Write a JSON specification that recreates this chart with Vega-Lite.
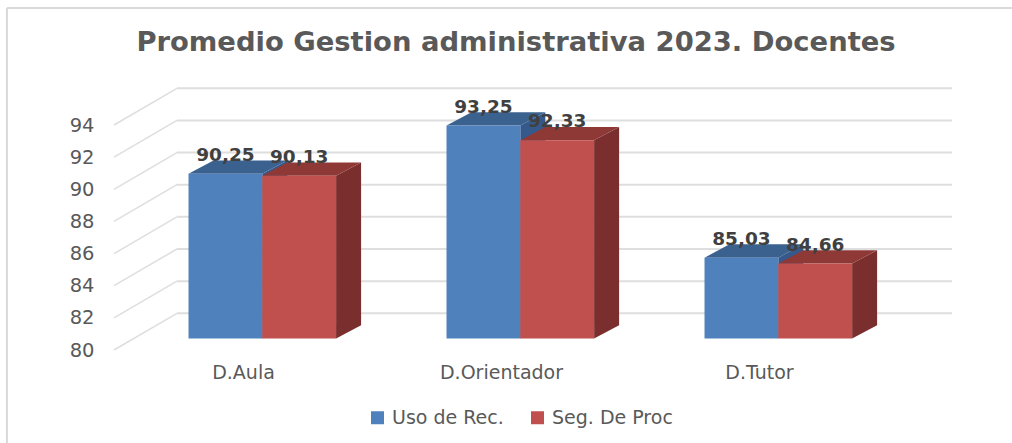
{
"$schema":"https://vega.github.io/schema/vega-lite/v6.json",
"width":838,"height":225,
"autosize":{"type":"none"},
"padding":{"left":114,"top":125,"right":60,"bottom":93},
"background":"white",
"config":{"view":{"stroke":null}},
"title":{"text":"Promedio Gestion administrativa 2023. Docentes","font":"DejaVu Sans","fontSize":27.4,"fontWeight":"bold","color":"#595959","anchor":"middle","dx":-17,"offset":-49},
"data":{"values":[
{"cat":"D.Aula","series":"Uso de Rec.","value":90.25},
{"cat":"D.Orientador","series":"Uso de Rec.","value":93.25},
{"cat":"D.Tutor","series":"Uso de Rec.","value":85.03},
{"cat":"D.Aula","series":"Seg. De Proc","value":90.13},
{"cat":"D.Orientador","series":"Seg. De Proc","value":92.33},
{"cat":"D.Tutor","series":"Seg. De Proc","value":84.66}
]},
"transform":[
{"calculate":"datum.series==='Uso de Rec.'?0:1","as":"si"},
{"calculate":"indexof(['D.Aula','D.Orientador','D.Tutor'],datum.cat)","as":"ci"},
{"calculate":"datum.ci+(datum.si-1)*0.286+0.0748","as":"xl"},
{"calculate":"datum.xl+0.286","as":"xr"},
{"calculate":"(datum.xl+datum.xr)/2","as":"xm"},
{"calculate":"datum.value+0.716","as":"top"},
{"calculate":"datum.cat+datum.series","as":"key"},
{"calculate":"replace(format(datum.value,'.2f'),'.',',')","as":"label"},
{"calculate":"[0,1]","as":"t"},
{"flatten":["t"]},
{"calculate":"datum.xr+datum.t*0.0969","as":"sx"},
{"calculate":"datum.top+datum.t*0.828","as":"sy"},
{"calculate":"80.716+datum.t*0.828","as":"sy2"},
{"calculate":"datum.xl+datum.t*0.0969","as":"tx"},
{"calculate":"datum.xr+datum.t*0.0969","as":"tx2"}
],
"encoding":{
 "x":{"type":"quantitative","title":null,"scale":{"domain":[-0.5,2.748],"nice":false,"zero":false},
  "axis":{"values":[0,1,2],"title":null,"domain":false,"ticks":false,"grid":false,"labelExpr":"['D.Aula','D.Orientador','D.Tutor'][datum.value]","labelFont":"DejaVu Sans","labelFontSize":19,"labelColor":"#595959","labelPadding":13,"labelOverlap":false,"labelFlush":false}},
 "y":{"type":"quantitative","title":null,"scale":{"domain":[80,94],"nice":false,"zero":false},
  "axis":{"values":[80,82,84,86,88,90,92,94],"title":null,"domain":false,"ticks":false,"grid":false,"labelFont":"DejaVu Sans","labelFontSize":19.5,"labelColor":"#595959","labelPadding":20,"labelOverlap":false,"labelFlush":false}}
},
"layer":[
{"data":{"values":[{"level":80},{"level":82},{"level":84},{"level":86},{"level":88},{"level":90},{"level":92},{"level":94}]},
 "transform":[{"calculate":"datum.level+2.284","as":"back"}],
 "layer":[
 {"mark":{"type":"rule","stroke":"#DEDEDE","strokeWidth":2},
  "encoding":{"x":{"datum":-0.256},"x2":{"datum":2.748},"y":{"field":"back"}}},
 {"mark":{"type":"rule","stroke":"#DEDEDE","strokeWidth":1.5},
  "encoding":{"x":{"datum":-0.5},"x2":{"datum":-0.256},"y":{"field":"level"},"y2":{"field":"back"}}}
 ]},
{"data":{"values":[{"edge":"frame"}]},
 "layer":[
 {"mark":{"type":"rule","stroke":"#D9D9D9","strokeWidth":2},
  "encoding":{"x":{"datum":-0.915},"y":{"datum":101.28},"y2":{"datum":74.2}}},
 {"mark":{"type":"rule","stroke":"#D9D9D9","strokeWidth":2},
  "encoding":{"x":{"datum":-0.915},"x2":{"datum":2.98},"y":{"datum":101.28}}}
 ]},
{"mark":{"type":"area","orient":"vertical","interpolate":"linear"},
 "encoding":{"x":{"field":"sx"},"y":{"field":"sy"},"y2":{"field":"sy2"},"detail":{"field":"key"},
  "fill":{"condition":{"test":"datum.si===0","value":"#35598A"},"value":"#7A2F2E"}}},
{"mark":{"type":"area","orient":"horizontal","interpolate":"linear"},
 "encoding":{"y":{"field":"sy"},"x":{"field":"tx"},"x2":{"field":"tx2"},"detail":{"field":"key"},
  "fill":{"condition":{"test":"datum.si===0","value":"#3B618F"},"value":"#8F3937"}}},
{"transform":[{"filter":"datum.t===0"}],
 "mark":{"type":"rect"},
 "encoding":{"x":{"field":"xl"},"x2":{"field":"xr"},"y":{"field":"top"},"y2":{"datum":80.716},
  "color":{"field":"series","type":"nominal","sort":["Uso de Rec.","Seg. De Proc"],"scale":{"domain":["Uso de Rec.","Seg. De Proc"],"range":["#4F81BD","#C0504D"]},
   "legend":{"orient":"none","direction":"horizontal","columns":2,"legendX":254,"legendY":283,"title":null,"symbolType":"square","symbolSize":169,"symbolStrokeWidth":0,"labelFont":"DejaVu Sans","labelFontSize":19,"labelColor":"#595959","columnPadding":24,"labelOffset":5}}}},
{"transform":[{"filter":"datum.t===0"}],
 "mark":{"type":"text","font":"DejaVu Sans","fontWeight":"bold","fontSize":18.5,"color":"#404040","baseline":"middle","align":"center","dy":-19},
 "encoding":{"x":{"field":"xm"},"y":{"field":"top"},"text":{"field":"label"}}}
]
}
